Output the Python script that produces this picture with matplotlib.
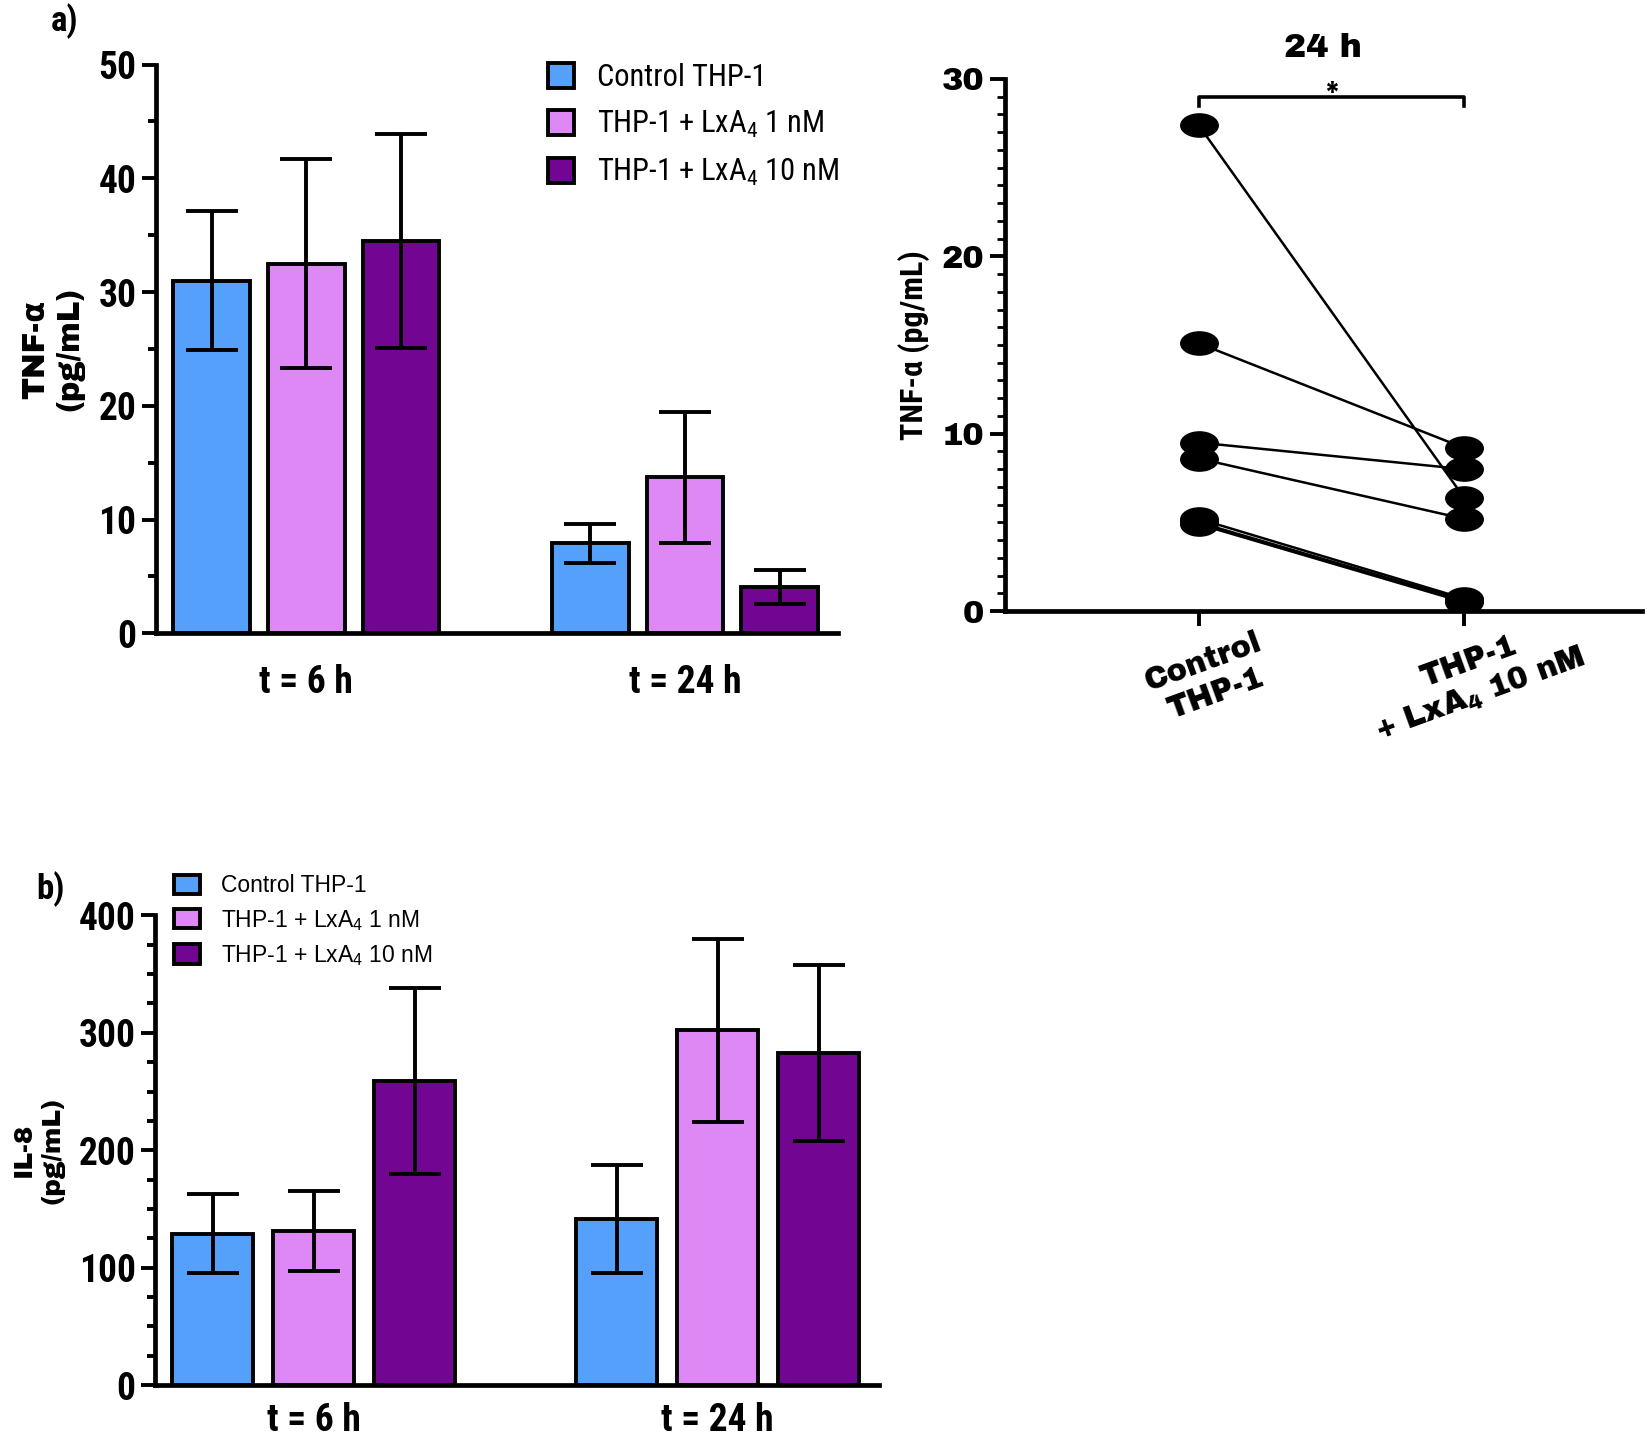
import numpy as np
import matplotlib
matplotlib.use('Agg')
import matplotlib.pyplot as plt
from matplotlib.patches import Patch
from matplotlib.path import Path
from matplotlib.transforms import Affine2D
from matplotlib.ticker import FixedLocator

plt.rcParams['mathtext.default'] = 'regular'

NARROW = ['Roboto Condensed', 'PT Sans Narrow', 'Liberation Sans', 'DejaVu Sans']
HEAVY = ['Archivo Black', 'DejaVu Sans']
REG = ['Liberation Sans', 'DejaVu Sans']

# 数据
groups = ['t = 6 h', 't = 24 h']
series = ['Control THP-1', 'THP-1 + LxA$_4$ 1 nM', 'THP-1 + LxA$_4$ 10 nM']
colors = ['#55A0FB', '#DD88F5', '#720592']

tnf_mean = [[31.0, 32.5, 34.5], [7.9, 13.7, 4.1]]
tnf_err = [[6.1, 9.2, 9.4], [1.7, 5.8, 1.5]]

il8_mean = [[129, 131, 259], [141, 302, 283]]
il8_err = [[34, 34, 79], [46, 78, 75]]

paired_labels = ['Control\nTHP-1', 'THP-1\n+ LxA$_4$ 10 nM']
paired_ctrl = [27.4, 15.1, 9.5, 8.6, 5.2, 5.0, 4.9]
paired_lxa = [6.4, 9.2, 8.0, 5.2, 0.7, 0.6, 0.5]

fig = plt.figure(figsize=(16.5, 14.36), dpi=100)

LW = 2.8


def bar_panel(ax, means, errs, width, xlim, ylim, major, minor, ylabel, ylab_size, xpad):
    for g in range(len(groups)):
        for s in range(len(series)):
            x = g * 4 + s
            ax.bar(x, means[g][s], width=width, color=colors[s], edgecolor='black',
                   linewidth=LW, zorder=2)
            ax.errorbar(x, means[g][s], yerr=errs[g][s], color='black', capsize=19,
                        capthick=LW, elinewidth=LW, zorder=3)
    ax.set_xlim(*xlim)
    ax.set_ylim(*ylim)
    ax.set_xticks([1, 5])
    ax.set_xticklabels(groups, family=NARROW, fontweight='bold', fontsize=27)
    ax.set_yticks(major)
    ax.yaxis.set_minor_locator(FixedLocator(minor))
    for lab in ax.get_yticklabels():
        lab.set_family(NARROW)
        lab.set_fontweight('bold')
        lab.set_fontsize(27)
    ax.tick_params(axis='x', length=0, pad=xpad)
    ax.tick_params(axis='y', which='major', length=10, width=LW, pad=4)
    ax.tick_params(axis='y', which='minor', length=6, width=LW)
    for sp in ['top', 'right']:
        ax.spines[sp].set_visible(False)
    for sp in ['left', 'bottom']:
        ax.spines[sp].set_linewidth(3.4)
    ax.set_ylabel(ylabel, family=HEAVY, fontweight='heavy', fontsize=ylab_size,
                  linespacing=1.25, labelpad=10)


handles = [Patch(facecolor=c, edgecolor='black', linewidth=LW) for c in colors]

# 面板 a
ax1 = fig.add_axes([0.0945, 0.559, 0.4135, 0.396])
bar_panel(ax1, tnf_mean, tnf_err, 0.81, (-0.59, 6.62), (0, 50),
          [0, 10, 20, 30, 40, 50], np.arange(5, 50, 10), 'TNF-α\n(pg/mL)', 22, 22)
ax1.legend(handles, series, loc='upper right', bbox_to_anchor=(1.02, 1.024), frameon=False,
           borderaxespad=0, prop={'family': NARROW, 'size': 22}, handlelength=0.85,
           handleheight=0.85, handletextpad=0.75, labelspacing=0.55)
fig.text(0.031, 0.985, 'a)', family=NARROW, fontweight='bold', fontsize=25, va='center')

# 面板 b
ax3 = fig.add_axes([0.094, 0.0355, 0.439, 0.327])
bar_panel(ax3, il8_mean, il8_err, 0.80, (-0.57, 6.6), (0, 400),
          [0, 100, 200, 300, 400], [v for v in range(25, 400, 25) if v % 100], 'IL-8\n(pg/mL)',
          19, 12)
ax3.legend(handles, series, loc='upper left', bbox_to_anchor=(0.013, 1.107), frameon=False,
           borderaxespad=0, prop={'family': REG, 'size': 16.5}, handlelength=1.15,
           handleheight=0.9, handletextpad=0.9, labelspacing=0.45)
fig.text(0.022, 0.381, 'b)', family=NARROW, fontweight='bold', fontsize=25, va='center')

# 右侧配对图
ax2 = fig.add_axes([0.609, 0.5745, 0.386, 0.3705])
ellipse = Path.unit_circle().transformed(Affine2D().scale(1.0, 0.62))
for c, t in zip(paired_ctrl, paired_lxa):
    ax2.plot([0, 1], [c, t], color='black', linewidth=1.8, marker=ellipse,
             markersize=27, zorder=3)
ax2.set_xlim(-0.73, 1.67)
ax2.set_ylim(0, 30)
ax2.set_yticks([0, 10, 20, 30])
ax2.set_yticks(np.arange(1, 30, 1), minor=True)
ax2.set_xticks([0, 1])
ax2.set_xticklabels(paired_labels, family=HEAVY, fontsize=22,
                    rotation=20, ha='center', va='top', rotation_mode='anchor',
                    linespacing=1.2)
for lab in ax2.get_yticklabels():
    lab.set_family(HEAVY)
    lab.set_fontsize(23)
ax2.tick_params(axis='y', which='major', length=11, width=LW, pad=4)
ax2.tick_params(axis='y', which='minor', length=6, width=2.0)
ax2.tick_params(axis='x', length=11, width=LW, pad=16)
for sp in ['top', 'right']:
    ax2.spines[sp].set_visible(False)
for sp in ['left', 'bottom']:
    ax2.spines[sp].set_linewidth(3.4)
ax2.set_ylabel('TNF-α (pg/mL)', family=NARROW, fontweight='bold', fontsize=23, labelpad=8)
ax2.set_title('24 h', family=HEAVY, fontsize=24, pad=16)

# 显著性标记
ax2.plot([0, 0, 1, 1], [28.45, 29.0, 29.0, 28.45], color='black', linewidth=2.6,
         clip_on=False)
ax2.text(0.5, 29.15, '*', ha='center', va='center', family=HEAVY, fontsize=22)

plt.savefig('out.png', dpi=100)
